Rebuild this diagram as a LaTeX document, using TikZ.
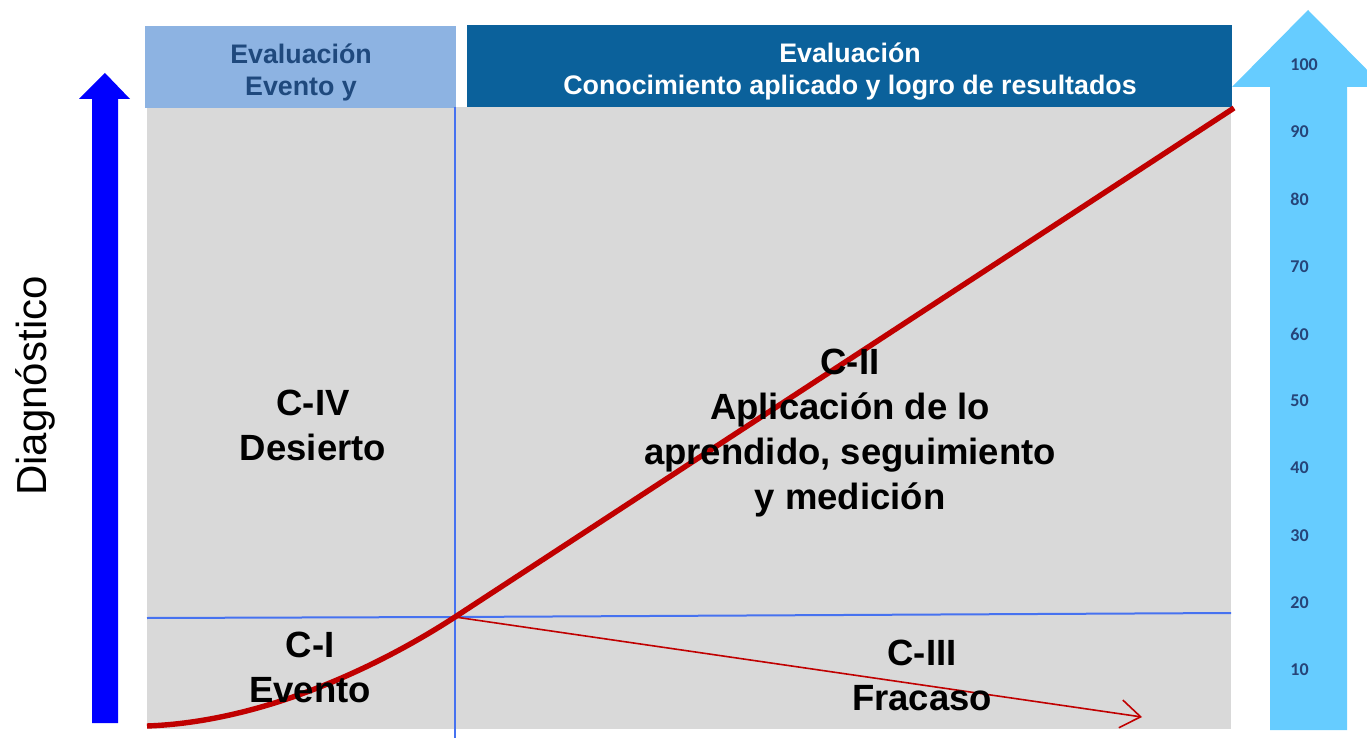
\documentclass[tikz,border=0pt]{standalone}
\usepackage{fontspec}
\setmainfont{Liberation Sans}
\newfontfamily\numfont{Carlito}
\usetikzlibrary{arrows.meta}
\definecolor{hdrlight}{RGB}{141,179,226}
\definecolor{hdrdark}{RGB}{11,97,155}
\definecolor{hdrtext}{RGB}{31,73,125}
\definecolor{panel}{RGB}{217,217,217}
\definecolor{gridblue}{RGB}{70,114,240}
\definecolor{curvered}{RGB}{192,0,0}
\definecolor{arrowblue}{RGB}{0,0,255}
\definecolor{arrowsky}{RGB}{102,204,255}
\definecolor{numblue}{RGB}{38,68,120}
\tikzset{
  hdrfont/.style={font=\fontsize{13.4}{16}\selectfont\bfseries, align=center},
  bigfont/.style={font=\fontsize{18.25}{22.5}\selectfont\bfseries, align=center},
  numlabel/.style={font=\numfont\fontsize{9}{10}\selectfont\bfseries, text=numblue, anchor=west, inner sep=0pt},
  gridline/.style={draw=gridblue, line width=1pt},
}
\begin{document}
\begin{tikzpicture}[x=0.5pt,y=-0.5pt]
\useasboundingbox (0,0) rectangle (1367,738);
\clip (0,0) rectangle (1367,738);
% panel
\fill[panel] (147,107) rectangle (1231,729);
% headers
\fill[hdrlight] (145,26) rectangle (456,108);
\fill[hdrdark] (467,25) rectangle (1232,107);
\node[hdrfont, text=hdrtext] (hl) at (301,72) {Evaluación\\Evento y};
\node[hdrfont, text=white] (hr) at (850,72) {Evaluación\\Conocimiento aplicado y logro de resultados};
% left blue arrow
\fill[arrowblue] (92,723) -- (92,99) -- (79,99) -- (105,73) -- (130,99) -- (118,99) -- (118,723) -- cycle;
% right sky arrow
\fill[arrowsky] (1270,730) -- (1270,87) -- (1232,87) -- (1308,10) -- (1384,87) -- (1347,87) -- (1347,730) -- cycle;
% scale numbers
\foreach \v/\yy in {100/65,90/132,80/199,70/267,60/334,50/401,40/468,30/536,20/603,10/670}
  \node[numlabel] (n\v) at (1290,\yy) {\v};
% grid lines
\coordinate (X) at (455,617);
\coordinate (vtop) at (455,107);
\coordinate (vbot) at (455,738);
\coordinate (hl0) at (147,618);
\coordinate (hr0) at (1231,613);
\draw[gridline] (vtop) -- (vbot);
\draw[gridline] (hl0) -- (X) -- (hr0);
% red curve
\coordinate (c0) at (147,726);
\coordinate (c1) at (1234,108);
\draw[curvered, line width=2.7pt] (c0) .. controls (260,722) and (375,669) .. (X) -- (c1);
% fail arrow
\coordinate (f1) at (1142,717);
\draw[curvered, line width=0.8pt, -{Straight Barb[length=10pt,width=14pt]}] (X) -- (f1);
% labels
\node[bigfont] (civ) at (313,425) {C-IV\\Desierto};
\node[bigfont] (cii) at (850,433) {C-II\\Aplicación de lo\\aprendido, seguimiento\\y medición};
\node[bigfont] (ci) at (310,667) {C-I\\Evento};
\node[bigfont] (ciii) at (922,675) {C-III\\Fracaso};
\node[rotate=90, font=\fontsize{21}{24}\selectfont] (diag) at (35,386) {Diagnóstico};
\end{tikzpicture}
\end{document}
